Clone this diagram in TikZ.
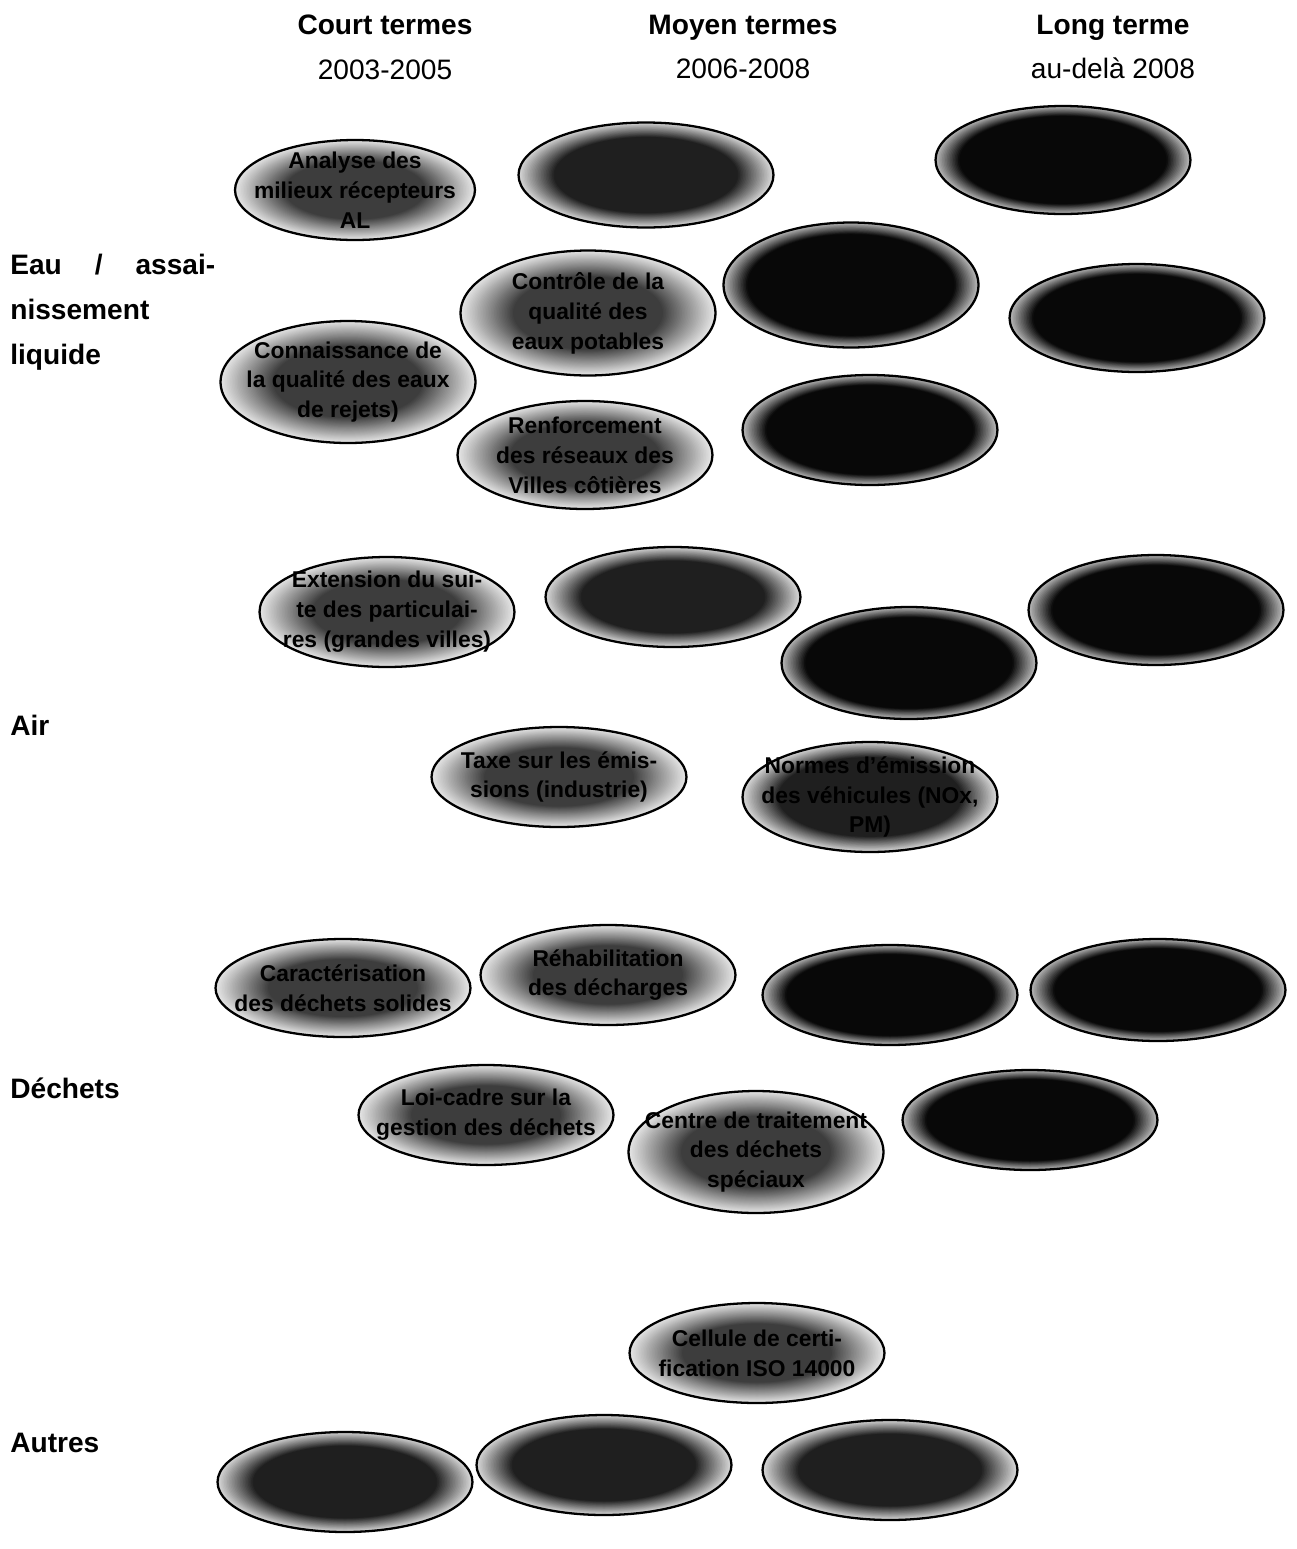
\documentclass[tikz,border=0pt]{standalone}
\usepackage{fontspec}
\setmainfont{Liberation Sans}
\usetikzlibrary{shapes.geometric,positioning,calc}

\begin{document}
\begin{tikzpicture}[
    x=0.02cm, y=-0.02cm,
    % blob={rim grey}{slope}{centre grey}: concentric ellipses from rim to centre
    blob/.style n args={3}{ellipse, draw=black, line width=1.3pt, inner sep=0pt,
        minimum width=5.1cm, minimum height=2.1cm,
        path picture={
            \path let \p1=($(path picture bounding box.north east)-(path picture bounding box.center)$)
                in \pgfextra{\xdef\blobrx{\x1}\xdef\blobry{\y1}};
            \foreach \i in {0,...,42}{
                \pgfmathsetmacro\blobr{1-\i*0.0125}
                \pgfmathsetmacro\blobc{min(#3,#1+(1-\blobr)*#2)}
                \fill[black!\blobc] (path picture bounding box.center)
                    ellipse [x radius=\blobr*\blobrx, y radius=\blobr*\blobry];
            }
        }},
    lightblob/.style={blob={10}{160}{76}},
    midblob/.style={blob={16}{260}{88}},
    darkblob/.style={blob={28}{380}{97}},
    blobtext/.style={align=center, font=\fontsize{13}{17}\selectfont\bfseries, text=black},
    head/.style={align=center, font=\fontsize{16}{25.5}\selectfont},
    rowlabel/.style={anchor=west, align=left, inner sep=0pt, font=\fontsize{16}{25.5}\selectfont\bfseries}
]
\useasboundingbox (0,0) rectangle (1296,1549);

% column headings
\node[head] (court) at (385,47) {\textbf{Court termes}\\2003-2005};
\node[head] (moyen) at (743,47) {\textbf{Moyen termes}\\2006-2008};
\node[head] (long) at (1113,47) {\textbf{Long terme}\\au-delà 2008};

% row headings
\node[rowlabel] (eau) at (10,312) {\makebox[4.1cm][s]{Eau\hfill/\hfill assai-}\\nissement\\liquide};
\node[rowlabel] (air) at (10,725) {Air};
\node[rowlabel] (dechets) at (10,1088) {Déchets};
\node[rowlabel] (autres) at (10,1443) {Autres};

% Eau / assainissement liquide
\node[lightblob, minimum width=4.8cm, minimum height=2cm] (e1) at (355,190) {};
\node[blobtext] at (e1) {Analyse des\\milieux récepteurs\\AL};
\node[midblob, minimum height=2.1cm] (e2) at (646,175) {};
\node[darkblob, minimum height=2.16cm] (e3) at (1063,160) {};
\node[lightblob, minimum height=2.5cm] (e4) at (588,313) {};
\node[blobtext] at (e4) {Contrôle de la\\qualité des\\eaux potables};
\node[darkblob, minimum height=2.5cm] (e5) at (851,285) {};
\node[darkblob, minimum height=2.16cm] (e6) at (1137,318) {};
\node[lightblob, minimum height=2.44cm] (e7) at (348,382) {};
\node[blobtext] at (e7) {Connaissance de\\la qualité des eaux\\de rejets)};
\node[lightblob, minimum height=2.16cm] (e8) at (585,455) {};
\node[blobtext] at (e8) {Renforcement\\des réseaux des\\Villes côtières};
\node[darkblob, minimum height=2.2cm] (e9) at (870,430) {};

% Air
\node[lightblob, minimum height=2.2cm] (a1) at (387,612) {};
\node[blobtext] at (a1) {Extension du sui-\\te des particulai-\\res (grandes villes)};
\node[midblob, minimum height=2cm] (a2) at (673,597) {};
\node[darkblob, minimum height=2.24cm] (a3) at (909,663) {};
\node[darkblob, minimum height=2.2cm] (a4) at (1156,610) {};
\node[lightblob, minimum height=2cm] (a5) at (559,777) {};
\node[blobtext] at (a5) {Taxe sur les émis-\\sions (industrie)};
\node[midblob, minimum height=2.2cm] (a6) at (870,797) {};
\node[blobtext] at (a6) {Normes d'émission\\des véhicules (NOx,\\PM)};

% Dechets
\node[lightblob, minimum height=1.96cm] (d1) at (343,988) {};
\node[blobtext] at (d1) {Caractérisation\\des déchets solides};
\node[lightblob, minimum height=2cm] (d2) at (608,975) {};
\node[blobtext] at (d2) {Réhabilitation\\des décharges};
\node[darkblob, minimum height=2cm] (d3) at (890,995) {};
\node[darkblob, minimum height=2.04cm] (d4) at (1158,990) {};
\node[lightblob, minimum height=2cm] (d5) at (486,1115) {};
\node[blobtext] at (d5) {Loi-cadre sur la\\gestion des déchets};
\node[lightblob, minimum height=2.44cm] (d6) at (756,1152) {};
\node[blobtext] at (d6) {Centre de traitement\\des déchets\\spéciaux};
\node[darkblob, minimum height=2cm] (d7) at (1030,1120) {};

% Autres
\node[lightblob, minimum height=2cm] (o1) at (757,1353) {};
\node[blobtext] at (o1) {Cellule de certi-\\fication ISO 14000};
\node[midblob, minimum height=2cm] (o2) at (345,1482) {};
\node[midblob, minimum height=2cm] (o3) at (604,1465) {};
\node[midblob, minimum height=2cm] (o4) at (890,1470) {};
\end{tikzpicture}
\end{document}
